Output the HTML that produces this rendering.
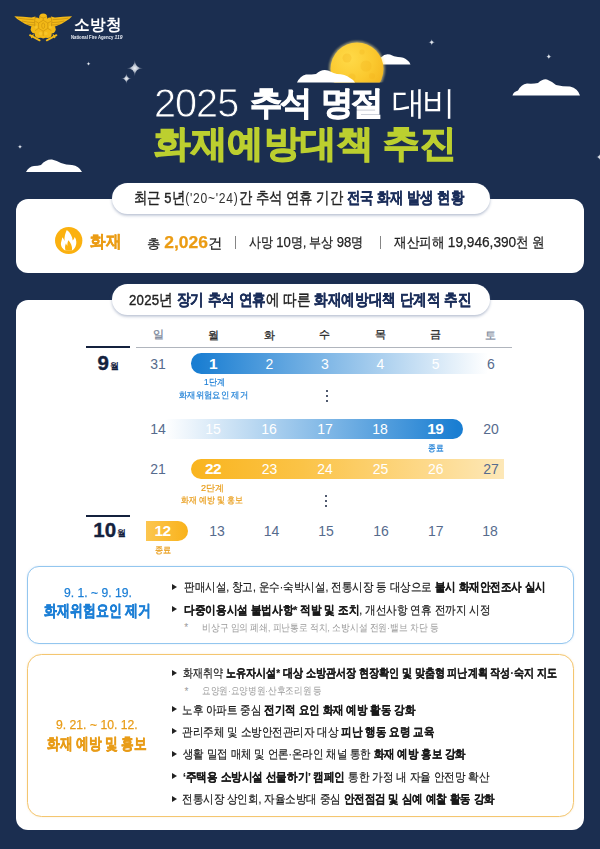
<!DOCTYPE html>
<html lang="ko">
<head>
<meta charset="utf-8">
<title>2025 추석 명절 대비 화재예방대책 추진</title>
<style>
*{margin:0;padding:0;box-sizing:border-box}
html,body{width:600px;height:849px;overflow:hidden}
body{background:#1b2e50;font-family:"Liberation Sans",sans-serif;color:#222;position:relative}
.abs{position:absolute;white-space:nowrap;line-height:1.2;transform-origin:0 0}
b{font-weight:700}
svg{position:absolute;display:block;overflow:visible}
.c{text-align:center;transform-origin:50% 0}
/* header */
.org{font-size:15.5px;font-weight:700;color:#fff;letter-spacing:0.6px}
.orgsub{font-size:5.2px;font-weight:700;color:#e9edf4}
.orgsub i{font-size:6px}
.tt{color:#fff;font-size:33px}
.tn{font-size:40px;letter-spacing:-1px;color:#fff;-webkit-text-stroke:0.8px #1b2e50}
.tb{font-weight:700;-webkit-text-stroke:0.9px #fff;letter-spacing:-2.5px}
.tl{letter-spacing:-3.5px}
.t2{font-size:37px;font-weight:700;color:#bccf2f;-webkit-text-stroke:1.3px #bccf2f}
/* cards */
.card{position:absolute;left:16.2px;width:567.5px;background:#fff;border-radius:12px}
.pill{position:absolute;left:111.5px;width:378px;height:31px;border-radius:15.5px;background:#fff;box-shadow:0 1.5px 3px rgba(90,110,150,.45)}
.pt{font-size:15.5px;font-weight:400;color:#222;-webkit-text-stroke:0.4px}
.pt .dg{letter-spacing:0.3px}
.pt .nv{color:#1b2e5a;font-weight:700;-webkit-text-stroke:0.35px}
.pt .sm{font-weight:400;-webkit-text-stroke:0;font-size:14.5px;letter-spacing:0.9px;color:#333}
/* stats */
.fl{font-size:16.5px;font-weight:700;color:#eb9c14;-webkit-text-stroke:0.4px}
.st{font-size:13.5px;color:#222;-webkit-text-stroke:0.25px}
.st .n{font-size:15.2px}
.st .o{font-size:17px;font-weight:700;color:#eb9c14}
.st .s{font-size:12.8px}
.sep{position:absolute;width:1px;height:12.5px;top:236px;background:#858585}
/* calendar */
.wd{font-size:10.5px;color:#2a2a2a;width:40px;-webkit-text-stroke:0.3px}
.wd.g{color:#7c879a}
.d{width:40px;font-size:14px;color:#566b8d}
.d.w{color:#fff}
.d.bd{font-size:15.5px;font-weight:700;color:#fff;letter-spacing:-0.6px}
.mon{font-size:20.5px;font-weight:700;color:#14213d;-webkit-text-stroke:0.4px #14213d}
.mon span{font-size:9px;font-weight:700;margin-left:1.2px;-webkit-text-stroke:0;position:relative;top:-1px}
.bar{position:absolute;height:20.400px}
.lb{font-size:9.2px;width:140px}
.blue{color:#1c7fd6}
.og{color:#e89c18}
.dot{position:absolute;width:2px;height:2px;border-radius:1px;background:#16233f}
/* boxes */
.box{position:absolute;left:27.3px;width:546.5px;border-radius:12px;background:#fff}
.bx1{top:566.4px;height:77.8px;border:1.3px solid #93c6ef;box-shadow:0 0 2px rgba(110,170,225,.25)}
.bx2{top:654.4px;height:162.2px;border-radius:14.5px;border:1.3px solid #f4c670;box-shadow:0 0 2px rgba(240,190,100,.25)}
.hd1{font-size:13.5px;-webkit-text-stroke:0.25px}
.hd2{font-size:15.5px;font-weight:700;-webkit-text-stroke:0.5px}
.li{font-size:11.8px;color:#1a1a1a;-webkit-text-stroke:0.2px #1a1a1a}
.nt{font-size:9.5px;color:#999}
.as{font-size:10px;color:#999}
.tri{position:absolute;width:0;height:0;border-left:5px solid #222;border-top:3.100px solid transparent;border-bottom:3.100px solid transparent}
.lb2{font-size:9.2px;-webkit-text-stroke:0.2px}
</style>
</head>
<body>
<!-- sky decorations -->
<svg id="sky" width="600" height="200" viewBox="0 0 600 200" style="left:0;top:0">
  <defs>
    <clipPath id="mc"><rect x="300" y="30" width="120" height="52.5"/></clipPath>
    <radialGradient id="mg" cx="0.36" cy="0.3" r="0.8">
      <stop offset="0" stop-color="#ffda48"/><stop offset="0.55" stop-color="#fbc92f"/><stop offset="1" stop-color="#f4b41c"/>
    </radialGradient>
    <filter id="bl" x="-20%" y="-20%" width="140%" height="140%"><feGaussianBlur stdDeviation="1.1"/></filter>
    <radialGradient id="sg" cx="0.5" cy="0.5" r="0.5">
      <stop offset="0" stop-color="#eef1f6" stop-opacity="1"/><stop offset="0.3" stop-color="#e3e8f0" stop-opacity="0.85"/><stop offset="1" stop-color="#cfd6e4" stop-opacity="0.05"/>
    </radialGradient>
  </defs>
  <!-- right cloud behind moon -->
  <path d="M372 64.5 Q376 58 381 57.5 Q385 53 390 54.5 Q394 56.5 398 57 Q404 57 407 60 Q410 62 410.5 64.5 Z" fill="#fff"/>
  <g clip-path="url(#mc)">
    <circle cx="357" cy="69" r="28" fill="#ffe98f" opacity="0.55" filter="url(#bl)"/>
    <circle cx="357" cy="69" r="26.500" fill="url(#mg)"/>
    <circle cx="347" cy="58" r="4.500" fill="#f0ae18" opacity=".28"/>
    <circle cx="366" cy="66" r="5.500" fill="#f0ae18" opacity=".25"/>
    <circle cx="352" cy="77" r="3.500" fill="#f0ae18" opacity=".25"/>
    <circle cx="362" cy="52" r="2.600" fill="#f0ae18" opacity=".25"/>
    <circle cx="372" cy="76" r="3" fill="#f0ae18" opacity=".22"/>
  </g>
  <!-- left cloud in front of moon -->
  <path d="M297 82.5 Q300 76 306 74.5 Q312 74.5 316 74 Q322 68.5 328 70.5 Q333 73 337 74 Q345 74 350 78 Q354 80 355 82.5 Z" fill="#fff"/>
  <!-- far-left cloud -->
  <path d="M26 172 Q29 166.5 34 166 Q38 166 41 165 Q46 159 52 159.5 Q57 160.5 61 163 Q66 165 72 165 Q79 166 82 172 Z" fill="#fff"/>
  <!-- far-right cloud -->
  <path d="M512.5 95.5 Q513 92 518 90.5 Q521 84.5 527 83.5 Q533 84 538 83 Q543 78.5 547 79.5 Q552 81.5 556 85 Q563 86.5 570 86.5 Q578 88.5 580 95.5 Z" fill="#fff"/>
  <!-- stars -->
  <g fill="url(#sg)">
    <path d="M0 -8.4 Q0.00 -0.00 8.4 0 Q0.00 0.00 0 8.4 Q-0.00 0.00 -8.4 0 Q-0.00 -0.00 0 -8.4Z" transform="translate(134.8 68.2)"/>
    <path d="M0 -5.6 Q0.00 -0.00 5.6 0 Q0.00 0.00 0 5.6 Q-0.00 0.00 -5.6 0 Q-0.00 -0.00 0 -5.6Z" transform="translate(126.4 78.6)"/>
    <path d="M0 -2.8 Q0.00 -0.00 2.8 0 Q0.00 0.00 0 2.8 Q-0.00 0.00 -2.8 0 Q-0.00 -0.00 0 -2.8Z" transform="translate(88.5 63.7)"/>
    <path d="M0 -3 Q0.00 -0.00 3 0 Q0.00 0.00 0 3 Q-0.00 0.00 -3 0 Q-0.00 -0.00 0 -3Z" transform="translate(20 146.7)"/>
    <path d="M0 -3.8 Q0.00 -0.00 3.8 0 Q0.00 0.00 0 3.8 Q-0.00 0.00 -3.8 0 Q-0.00 -0.00 0 -3.8Z" transform="translate(431.7 42.3)"/>
    <path d="M0 -3.6 Q0.00 -0.00 3.6 0 Q0.00 0.00 0 3.6 Q-0.00 0.00 -3.6 0 Q-0.00 -0.00 0 -3.6Z" transform="translate(548.8 56.5)"/>
    <path d="M0 -3.8 Q0.00 -0.00 3.8 0 Q0.00 0.00 0 3.8 Q-0.00 0.00 -3.8 0 Q-0.00 -0.00 0 -3.8Z" transform="translate(599.5 157)"/>
  </g>
</svg>
<!-- logo emblem -->
<svg width="60" height="30" viewBox="0 0 60 30" style="left:12.500px;top:11.500px">
  <g fill="#f3b917">
    <!-- wings -->
    <path d="M1.300 4.300 Q11 4.900 18.500 5.500 L22.300 4.600 L23.500 15.300 Q19.500 15.600 15.200 13.300 Q11.500 12 8.500 9.800 Q4 7.600 1.300 4.300Z"/>
    <path d="M59.100 4.300 Q49.400 4.900 41.900 5.500 L38.100 4.600 L36.900 15.300 Q40.900 15.600 45.200 13.300 Q48.900 12 51.900 9.800 Q56.400 7.600 59.100 4.300Z"/>
    <!-- body: scalloped shield + head -->
    <circle cx="30.200" cy="5.400" r="4"/>
    <circle cx="30.200" cy="14.400" r="8.800"/>
    <circle cx="23.400" cy="9.800" r="4.200"/><circle cx="37" cy="9.800" r="4.200"/>
    <circle cx="22.100" cy="17.200" r="4.400"/><circle cx="38.300" cy="17.200" r="4.400"/>
    <circle cx="25.800" cy="22" r="4.100"/><circle cx="34.600" cy="22" r="4.100"/>
    <circle cx="30.200" cy="22.600" r="3.800"/>
  </g>
  <!-- crossed tools -->
  <g stroke="#f3b917" stroke-width="1.900" stroke-linecap="round">
    <path d="M17 23.200 L26.600 28.300"/><path d="M43.400 23.200 L33.800 28.300"/>
    <path d="M18.600 25.600 L20.200 22.800" stroke-width="1.200"/><path d="M41.800 25.600 L40.200 22.800" stroke-width="1.200"/>
  </g>
  <!-- feather gaps -->
  <g fill="none" stroke="#a9780f" stroke-width="0.600" opacity=".8">
    <path d="M5 6.200 Q12 7.300 20.800 7.700"/><path d="M9 9 Q14 10.300 21.300 10.600"/><path d="M14 12 Q17.500 12.900 21.800 13.100"/>
    <path d="M55.400 6.200 Q48.400 7.300 39.600 7.700"/><path d="M51.400 9 Q46.400 10.300 39.100 10.600"/><path d="M46.400 12 Q42.900 12.900 38.600 13.100"/>
    <path d="M22.300 4.600 Q21 9 22 14.500"/><path d="M38.100 4.600 Q39.400 9 38.400 14.500"/>
  </g>
  <!-- honeycomb detail -->
  <g fill="none" stroke="#cf950e" stroke-width="0.750">
    <path d="M30.200 8.300 L34.800 11 L34.800 16.400 L30.200 19.100 L25.600 16.400 L25.600 11Z"/>
    <ellipse cx="30.200" cy="13.700" rx="1.500" ry="2.800"/>
    <path d="M25.600 11 L22.300 9.300"/><path d="M34.800 11 L38.100 9.300"/>
    <path d="M25.600 16.400 L22 18.600"/><path d="M34.800 16.400 L38.400 18.600"/>
    <path d="M30.200 19.100 L30.200 24"/><path d="M30.200 8.300 L30.200 6"/>
    <path d="M26.500 4.300 Q30.200 7.400 33.900 4.300"/>
  </g>
  <g fill="#f9cf3a" opacity=".55">
    <circle cx="27.500" cy="21.500" r="1.700"/><circle cx="32.900" cy="21.500" r="1.700"/><circle cx="23" cy="15" r="1.500"/><circle cx="37.400" cy="15" r="1.500"/>
  </g>
</svg>
<!-- header -->
<div id="org" class="abs org" style="left:74.0px;top:16.3px;transform:scaleX(0.976)">소방청</div>
<div id="orgsub" class="abs orgsub" style="left:71.2px;top:34.4px;transform:scaleX(0.824)">National Fire Agency <i>119</i></div>
<!-- title -->
<div id="tn" class="abs tn" style="left:154.0px;top:79.0px;transform:scaleX(0.991)">2025</div>
<div id="ta" class="abs tt tb" style="left:250.0px;top:82.8px;transform:scaleX(0.981)">추석</div>
<div id="tb" class="abs tt tb" style="left:321.2px;top:82.8px;transform:scaleX(0.987)">명절</div>
<div id="tc" class="abs tt tl" style="left:392.0px;top:82.8px;transform:scaleX(1.018)">대비</div>
<div id="t2" class="abs t2" style="left:154.0px;top:122.0px;transform:scaleX(0.987)">화재예방대책 추진</div>
<!-- card 1 -->
<div class="card" style="top:198.500px;height:74.500px"></div>
<div class="pill" style="top:182.700px"></div>
<div id="p1" class="abs pt" style="left:134.3px;top:188.9px;transform:scaleX(0.835)">최근 <span class="dg">5</span>년<span class="sm">('20~'24)</span>간 추석 연휴 기간 <span class="nv">전국 화재 발생 현황</span></div>
<svg width="27.4" height="27" viewBox="0 0 27.4 27" style="left:54.500px;top:227px">
  <ellipse cx="13.700" cy="13.500" rx="13.700" ry="13.500" fill="#fbb10f"/>
  <path d="M11.800 2.900 C15.200 5.400 17.400 9.200 17.700 13.600 C18.600 12.600 19.300 11.400 19.800 10 C21.600 12.800 21.800 16.600 20.600 19.300 C19.900 21 18.900 22.300 17.500 23.300 L9.800 23.300 C7 21.400 5.300 18.300 6.100 15.300 C6.500 13.500 7.100 11.800 7.400 10.300 C8.300 11.300 9 12.500 9.500 13.900 C9.300 9.800 10.300 6 11.800 2.900Z" fill="#fff"/>
  <path d="M13.400 13.300 C15.600 15.600 17.500 19.200 17.100 23.300 L10.500 23.300 C9.700 21 10 18.400 11 16.300 C11.300 17.500 11.800 18.300 12.400 18.700 C12.300 16.600 12.600 14.800 13.400 13.300Z" fill="#fbb10f"/>
</svg>
<div id="fl" class="abs fl" style="left:90.0px;top:232.0px;transform:scaleX(0.913)">화재</div>
<div id="s1" class="abs st" style="left:147.0px;top:233.4px;transform:scaleX(1.027)"><span class="s">총</span> <span class="o">2,026</span>건</div>
<div class="sep" style="left:235px"></div>
<div id="s2" class="abs st" style="left:249.2px;top:232.7px;transform:scaleX(0.860)">사망 <span class="n">10</span>명, 부상 <span class="n">98</span>명</div>
<div class="sep" style="left:380.200px"></div>
<div id="s3" class="abs st" style="left:394.0px;top:232.7px;transform:scaleX(0.900)">재산피해 <span class="n">19,946,390</span>천 원</div>
<!-- card 2 -->
<div class="card" style="top:299.500px;height:530.300px"></div>
<div class="pill" style="top:283.800px"></div>
<div id="p2" class="abs pt" style="left:129.1px;top:290.6px;transform:scaleX(0.852)"><span class="dg">2025</span>년 <span class="nv">장기 추석 연휴</span>에 따른 <span class="nv">화재예방대책 단계적 추진</span></div>
<!-- calendar -->
<div id="wd0" class="abs wd c g" style="left:138.1px;top:328.0px">일</div>
<div id="wd1" class="abs wd c" style="left:193.5px;top:328.5px">월</div>
<div id="wd2" class="abs wd c" style="left:249.5px;top:328.5px">화</div>
<div id="wd3" class="abs wd c" style="left:304.5px;top:328.0px">수</div>
<div id="wd4" class="abs wd c" style="left:360.5px;top:328.0px">목</div>
<div id="wd5" class="abs wd c" style="left:415.7px;top:328.0px">금</div>
<div id="wd6" class="abs wd c g" style="left:470.5px;top:328.5px">토</div>
<div class="abs" style="left:86.300px;top:346.400px;width:43.700px;height:1.800px;background:#14213d"></div>
<div class="abs" style="left:136.300px;top:347px;width:375.300px;height:1px;background:#b0b5bd"></div>
<div class="abs mon" id="m9" style="left:97.500px;top:350.500px">9<span>월</span></div>
<div class="bar" style="left:190.600px;top:353.300px;width:297px;border-radius:10.200px 0 0 10.200px;background:linear-gradient(90deg,#1a7ed2 0%,#1a7ed2 2%,#ffffff 100%)"></div>
<div class="bar" style="left:165px;top:418.700px;width:298.200px;height:20px;border-radius:0 10px 10px 0;background:linear-gradient(270deg,#1a7ed2 0%,#1a7ed2 2%,#ffffff 100%)"></div>
<div class="bar" style="left:190.700px;top:459.300px;width:313px;height:20.200px;border-radius:10.100px 0 0 10.100px;background:linear-gradient(90deg,#f9b41e 0%,#fbc346 35%,#fdd98a 75%,#fde8b8 100%)"></div>
<div class="bar" style="left:145.500px;top:520.500px;width:42px;height:20px;border-radius:0 10px 10px 0;background:linear-gradient(90deg,#fcc650 0%,#f9b21a 100%)"></div>
<div id="d00" class="abs d c" style="left:138.1px;top:356.2px">31</div>
<div id="d01" class="abs d c bd" style="left:193.0px;top:355.2px">1</div>
<div id="d02" class="abs d c w" style="left:249.5px;top:356.2px">2</div>
<div id="d03" class="abs d c w" style="left:305.0px;top:356.2px">3</div>
<div id="d04" class="abs d c w" style="left:360.5px;top:356.2px">4</div>
<div id="d05" class="abs d c w" style="left:415.7px;top:356.2px">5</div>
<div id="d06" class="abs d c" style="left:471.0px;top:356.2px">6</div>
<div id="d10" class="abs d c" style="left:138.1px;top:420.8px">14</div>
<div id="d11" class="abs d c w" style="left:193.0px;top:420.8px">15</div>
<div id="d12" class="abs d c w" style="left:249.0px;top:420.8px">16</div>
<div id="d13" class="abs d c w" style="left:305.0px;top:420.8px">17</div>
<div id="d14" class="abs d c w" style="left:360.0px;top:420.8px">18</div>
<div id="d15" class="abs d c bd" style="left:415.2px;top:419.8px">19</div>
<div id="d16" class="abs d c" style="left:471.0px;top:420.8px">20</div>
<div id="d20" class="abs d c" style="left:138.1px;top:461.0px">21</div>
<div id="d21" class="abs d c bd" style="left:193.0px;top:460.0px">22</div>
<div id="d22" class="abs d c w" style="left:249.5px;top:461.0px">23</div>
<div id="d23" class="abs d c w" style="left:305.0px;top:461.0px">24</div>
<div id="d24" class="abs d c w" style="left:360.5px;top:461.0px">25</div>
<div id="d25" class="abs d c w" style="left:415.7px;top:461.0px">26</div>
<div id="d26" class="abs d c" style="left:471.0px;top:461.0px">27</div>
<div class="abs" style="left:86.300px;top:515px;width:43.700px;height:1.700px;background:#14213d"></div>
<div class="abs mon" id="m10" style="left:93.300px;top:517.800px">10<span>월</span></div>
<div id="d30" class="abs d c bd" style="left:142.6px;top:522.0px">12</div>
<div id="d31" class="abs d c" style="left:197.0px;top:523.0px">13</div>
<div id="d32" class="abs d c" style="left:251.5px;top:523.0px">14</div>
<div id="d33" class="abs d c" style="left:306.0px;top:523.0px">15</div>
<div id="d34" class="abs d c" style="left:361.0px;top:523.0px">16</div>
<div id="d35" class="abs d c" style="left:415.7px;top:523.0px">17</div>
<div id="d36" class="abs d c" style="left:470.0px;top:523.0px">18</div>
<div id="lb1a" class="abs lb2 blue" style="left:203.8px;top:377.2px;transform:scaleX(0.901)">1단계</div>
<div id="lb1b" class="abs lb2 blue" style="left:178.8px;top:390.1px;transform:scaleX(0.928)">화재위험요인 제거</div>
<div id="lb2" class="abs lb2 blue" style="left:427.7px;top:442.5px;transform:scaleX(0.861)">종료</div>
<div id="lb3a" class="abs lb2 og" style="left:201.0px;top:483.4px;transform:scaleX(0.991)">2단계</div>
<div id="lb3b" class="abs lb2 og" style="left:181.0px;top:495.4px;transform:scaleX(0.882)">화재 예방 및 홍보</div>
<div id="lb4" class="abs lb2 og" style="left:155.0px;top:545.1px;transform:scaleX(0.898)">종료</div>
<div class="dot" style="left:325.9px;top:389.8px"></div><div class="dot" style="left:325.9px;top:394.7px"></div><div class="dot" style="left:325.9px;top:399.6px"></div>
<div class="dot" style="left:325.3px;top:495.1px"></div><div class="dot" style="left:325.3px;top:499.9px"></div><div class="dot" style="left:325.3px;top:504.7px"></div>
<!-- box 1 -->
<div class="box bx1"></div>
<div id="h11" class="abs hd1 blue" style="left:63.5px;top:585.1px;transform:scaleX(0.900)">9. 1. ~ 9. 19.</div>
<div id="h12" class="abs hd2 blue" style="left:44.0px;top:602.0px;transform:scaleX(0.808)">화재위험요인 제거</div>
<div class="tri" style="left:172px;top:583.6px"></div>
<div id="l11" class="abs li" style="left:184.2px;top:579.9px;transform:scaleX(0.878)">판매시설, 창고, 운수·숙박시설, 전통시장 등 대상으로 <b>불시 화재안전조사 실시</b></div>
<div class="tri" style="left:172px;top:606.2px"></div>
<div id="l12" class="abs li" style="left:184.0px;top:602.8px;transform:scaleX(0.886)"><b>다중이용시설 불법사항* 적발 및 조치</b>, 개선사항 연휴 전까지 시정</div>
<div class="abs as" style="left:184.200px;top:622px">*</div>
<div id="n1" class="abs nt" style="left:202.1px;top:621.5px;transform:scaleX(0.877)">비상구 임의 폐쇄, 피난통로 적치, 소방시설 전원·밸브 차단 등</div>
<!-- box 2 -->
<div class="box bx2"></div>
<div id="h21" class="abs hd1 og" style="left:56.4px;top:716.9px;transform:scaleX(0.903)">9. 21. ~ 10. 12.</div>
<div id="h22" class="abs hd2 og" style="left:47.2px;top:734.6px;transform:scaleX(0.795)">화재 예방 및 홍보</div>
<div class="tri" style="left:172px;top:669.9px"></div>
<div id="l21" class="abs li" style="left:183.0px;top:665.5px;transform:scaleX(0.838)">화재취약 <b>노유자시설* 대상 소방관서장 현장확인 및 맞춤형 피난계획 작성·숙지 지도</b></div>
<div class="abs as" style="left:184.500px;top:686px">*</div>
<div id="n2" class="abs nt" style="left:202.0px;top:685.1px;transform:scaleX(0.864)">요양원·요양병원·산후조리원 등</div>
<div class="tri" style="left:172px;top:706.0px"></div>
<div id="l22" class="abs li" style="left:182.1px;top:702.5px;transform:scaleX(0.876)">노후 아파트 중심 <b>전기적 요인 화재 예방 활동 강화</b></div>
<div class="tri" style="left:172px;top:728.0px"></div>
<div id="l23" class="abs li" style="left:182.1px;top:724.5px;transform:scaleX(0.880)">관리주체 및 소방안전관리자 대상 <b>피난 행동 요령 교육</b></div>
<div class="tri" style="left:172px;top:750.5px"></div>
<div id="l24" class="abs li" style="left:183.0px;top:746.5px;transform:scaleX(0.871)">생활 밀접 매체 및 언론·온라인 채널 통한 <b>화재 예방 홍보 강화</b></div>
<div class="tri" style="left:172px;top:773.0px"></div>
<div id="l25" class="abs li" style="left:183.0px;top:769.5px;transform:scaleX(0.882)"><b>‘주택용 소방시설 선물하기’ 캠페인</b> 통한 가정 내 자율 안전망 확산</div>
<div class="tri" style="left:172px;top:795.5px"></div>
<div id="l26" class="abs li" style="left:182.1px;top:791.5px;transform:scaleX(0.876)">전통시장 상인회, 자율소방대 중심 <b>안전점검 및 심예 예찰 활동 강화</b></div>

</body>
</html>
